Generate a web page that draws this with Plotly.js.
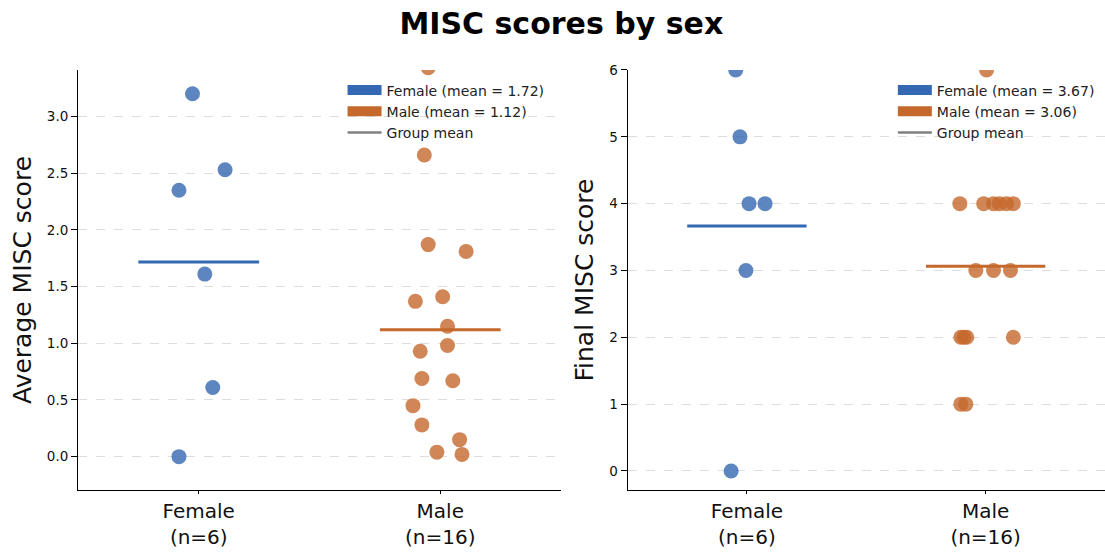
<!DOCTYPE html>
<html>
<head>
<meta charset="utf-8">
<script src="https://cdn.plot.ly/plotly-3.0.1.min.js"></script>
<style>html,body{margin:0;padding:0;background:#fff;}#chart{width:1105px;height:552px;}</style>
</head>
<body>
<div id="chart"></div>
<script>
// ---- data ----
const categories = ["Female", "Male"];
const femaleAvg = [3.2, 2.53, 2.35, 1.61, 0.61, 0.0];
const femaleAvgJitter = [-0.026, 0.109, -0.082, 0.025, 0.058, -0.082];
const maleAvg = [3.43, 2.66, 1.87, 1.81, 1.37, 1.41, 1.15, 0.93, 0.98, 0.69, 0.67, 0.45, 0.28, 0.15, 0.04, 0.02];
const maleAvgJitter = [-0.05, -0.066, -0.05, 0.107, -0.103, 0.01, 0.03, -0.083, 0.03, -0.076, 0.052, -0.113, -0.076, 0.08, -0.014, 0.09];
const femaleFinal = [6, 5, 4, 4, 3, 0];
const femaleFinalJitter = [-0.047, -0.029, 0.009, 0.076, -0.004, -0.066];
const maleFinal = [6, 4, 4, 4, 4, 4, 4, 3, 3, 3, 2, 2, 2, 2, 1, 1];
const maleFinalJitter = [0.004, -0.108, -0.008, 0.033, 0.058, 0.087, 0.116, -0.041, 0.033, 0.104, -0.104, -0.091, -0.079, 0.116, -0.104, -0.083];
const avgTicks = [0, 0.5, 1, 1.5, 2, 2.5, 3];
const finalTicks = [0, 1, 2, 3, 4, 5, 6];

// ---- styles ----
const BLUE = "#3468B2", ORANGE = "#C4682C", GREY = "#808080";
const FONT = "DejaVu Sans, Liberation Sans, sans-serif";
const mean = a => a.reduce((s, v) => s + v, 0) / a.length;
const tickText = [categories[0] + "<br>(n=" + femaleAvg.length + ")", categories[1] + "<br>(n=" + maleAvg.length + ")"];

function panel(fem, femJ, mal, malJ, xa, ya, leg) {
  const out = [];
  const groups = [[fem, femJ, 0, BLUE], [mal, malJ, 1, ORANGE]];
  groups.forEach(([vals, jit, idx, col]) => {
    out.push({type: "scatter", mode: "markers", x: vals.map((v, i) => idx + jit[i]), y: vals,
      xaxis: xa, yaxis: ya, showlegend: false, hoverinfo: "y",
      marker: {size: 15, color: col, opacity: 0.8, line: {width: 0}}});
    const m = mean(vals);
    out.push({type: "scatter", mode: "lines", x: [idx - 0.25, idx + 0.25], y: [m, m],
      xaxis: xa, yaxis: ya, showlegend: false, hoverinfo: "skip",
      line: {color: col, width: 3}});
  });
  // legend entries
  out.push({type: "scatter", mode: "lines", x: [null], y: [null], xaxis: xa, yaxis: ya,
    name: categories[0] + " (mean = " + mean(fem).toFixed(2) + ")", legend: leg, line: {color: BLUE, width: 12}});
  out.push({type: "scatter", mode: "lines", x: [null], y: [null], xaxis: xa, yaxis: ya,
    name: categories[1] + " (mean = " + mean(mal).toFixed(2) + ")", legend: leg, line: {color: ORANGE, width: 12}});
  out.push({type: "scatter", mode: "lines", x: [null], y: [null], xaxis: xa, yaxis: ya,
    name: "Group mean", legend: leg, line: {color: GREY, width: 2.5}});
  return out;
}

const data = [].concat(
  panel(femaleAvg, femaleAvgJitter, maleAvg, maleAvgJitter, "x", "y", "legend"),
  panel(femaleFinal, femaleFinalJitter, maleFinal, maleFinalJitter, "x2", "y2", "legend2")
);

const xBase = {range: [-0.5, 1.5], tickvals: [0, 1], ticktext: tickText, showgrid: false, zeroline: false,
  showline: true, linecolor: "#000", linewidth: 1, ticks: "outside", ticklen: 3, tickcolor: "#000",
  tickfont: {size: 20, color: "#111"}, automargin: false, fixedrange: true};
const yBase = {showgrid: true, gridcolor: "#dddddd", griddash: "dash", gridwidth: 1, zeroline: false,
  showline: true, linecolor: "#000", linewidth: 1, ticks: "outside", ticklen: 6, tickcolor: "#000",
  tickfont: {size: 13.5, color: "#111"}, automargin: false, fixedrange: true};
const legBase = {xanchor: "left", yanchor: "top", bgcolor: "rgba(255,255,255,0)", font: {size: 14, family: FONT, color: "#222"},
  tracegroupgap: 0, itemwidth: 34};

const layout = {
  width: 1105, height: 552,
  margin: {l: 0, r: 0, t: 0, b: 0},
  paper_bgcolor: "#fff", plot_bgcolor: "#fff",
  font: {family: FONT, color: "#111"},
  title: {text: "<b>MISC scores by sex</b>", x: 0.508, xanchor: "center", y: 0.958, yanchor: "middle",
    font: {size: 30, family: FONT, color: "#000"}},
  xaxis: Object.assign({}, xBase, {domain: [0.0706, 0.5077], anchor: "y"}),
  yaxis: Object.assign({}, yBase, {domain: [0.1123, 0.8732], anchor: "x", range: [-0.294, 3.41],
    tickvals: avgTicks, tickformat: ".1f",
    title: {text: "Average MISC score", font: {size: 25, family: FONT, color: "#111"}, standoff: 8}}),
  xaxis2: Object.assign({}, xBase, {domain: [0.5679, 1.0], anchor: "y2"}),
  yaxis2: Object.assign({}, yBase, {domain: [0.1123, 0.8732], anchor: "x2", range: [-0.285, 6.0],
    tickvals: finalTicks, tickformat: "d",
    title: {text: "Final MISC score", font: {size: 25, family: FONT, color: "#111"}, standoff: 8}}),
  legend: Object.assign({}, legBase, {x: 0.310, y: 0.865}),
  legend2: Object.assign({}, legBase, {x: 0.808, y: 0.865})
};

Plotly.newPlot("chart", data, layout, {displayModeBar: false, staticPlot: true});
</script>
</body>
</html>
